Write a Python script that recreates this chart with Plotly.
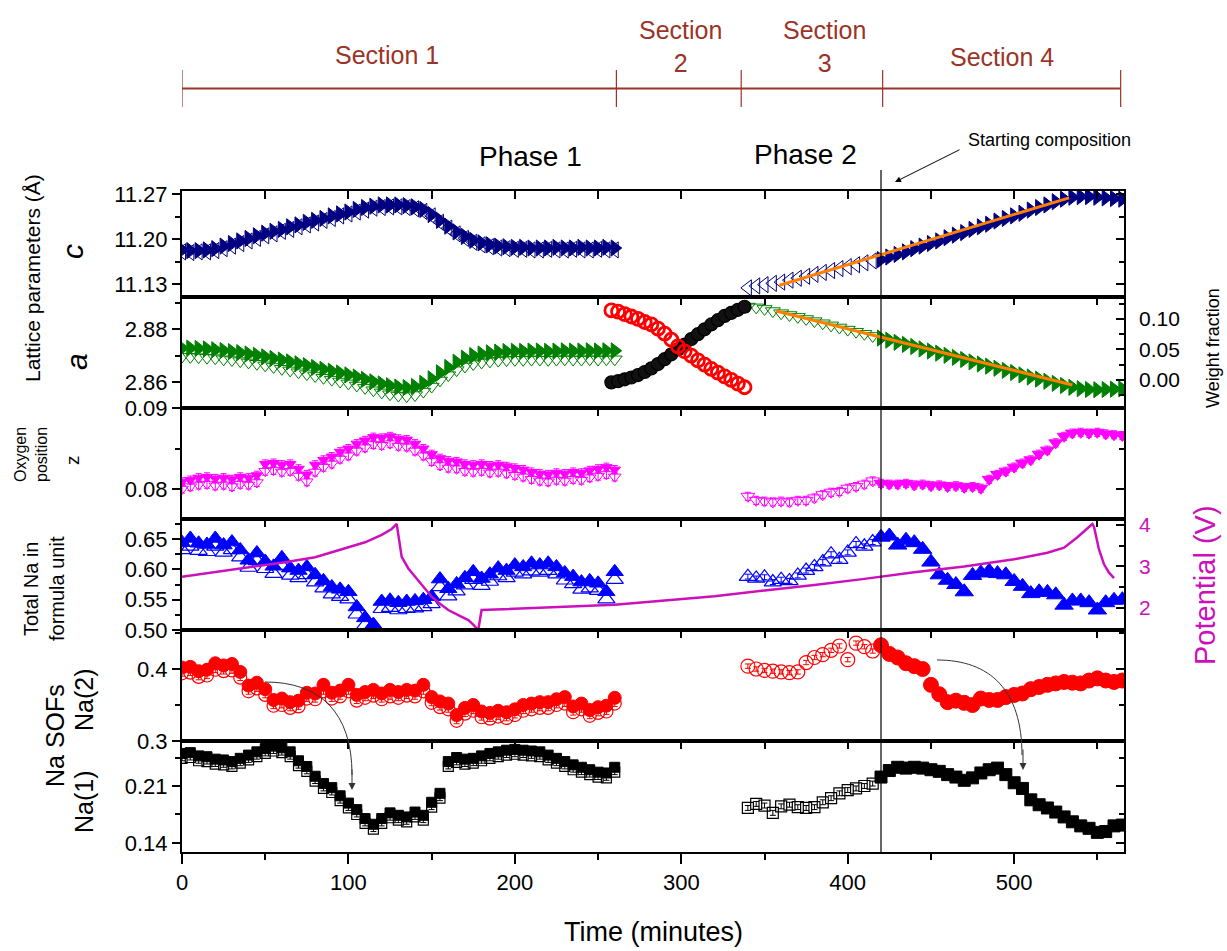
import plotly.graph_objects as go

# ---------------- data ----------------
T1 = [0, 5, 10, 15, 20, 25, 30, 35, 40, 45, 50, 55, 60, 65, 70, 75, 80, 85, 90, 95,
      100, 105, 110, 115, 120, 125, 130, 135, 140, 145, 150, 155, 160, 165, 170, 175,
      180, 185, 190, 195, 200, 205, 210, 215, 220, 225, 230, 235, 240, 245, 250, 255, 260]
T2 = [258, 262, 266, 270, 274, 278, 282, 286, 290, 294, 298, 302, 306, 310, 314, 318,
      322, 326, 330, 334, 338]
T3 = [340, 345, 350, 355, 360, 365, 370, 375, 380, 385, 390, 395, 400, 405, 410, 415]
T4 = [420, 425, 430, 435, 440, 445, 450, 455, 460, 465, 470, 475, 480, 485, 490, 495,
      500, 505, 510, 515, 520, 525, 530, 535, 540, 545, 550, 555, 560, 565]

# lattice parameter c
c_fill1 = [11.183, 11.182, 11.182, 11.183, 11.185, 11.189, 11.193, 11.197, 11.201, 11.205,
           11.209, 11.212, 11.215, 11.219, 11.222, 11.226, 11.229, 11.232, 11.236, 11.239,
           11.242, 11.246, 11.249, 11.251, 11.253, 11.253, 11.253, 11.252, 11.250, 11.246,
           11.238, 11.229, 11.220, 11.211, 11.204, 11.198, 11.194, 11.191, 11.189, 11.188,
           11.187, 11.187, 11.186, 11.186, 11.186, 11.187, 11.186, 11.186, 11.187, 11.186,
           11.186, 11.187, 11.186]
c_open1 = [11.180, 11.179, 11.180, 11.180, 11.182, 11.185, 11.189, 11.193, 11.197, 11.201,
           11.205, 11.208, 11.212, 11.215, 11.219, 11.222, 11.225, 11.229, 11.232, 11.236,
           11.239, 11.242, 11.245, 11.248, 11.249, 11.250, 11.250, 11.249, 11.247, 11.243,
           11.236, 11.226, 11.217, 11.208, 11.201, 11.195, 11.191, 11.188, 11.186, 11.185,
           11.184, 11.184, 11.183, 11.183, 11.184, 11.183, 11.183, 11.184, 11.183, 11.183,
           11.184, 11.183, 11.183]
c_open3 = [11.124, 11.127, 11.129, 11.131, 11.133, 11.136, 11.139, 11.142, 11.145, 11.148,
           11.151, 11.154, 11.157, 11.160, 11.163, 11.166]
c_fill4 = [11.168, 11.172, 11.176, 11.180, 11.185, 11.189, 11.193, 11.197, 11.202, 11.206,
           11.210, 11.215, 11.219, 11.223, 11.228, 11.232, 11.236, 11.240, 11.245, 11.249,
           11.253, 11.258, 11.262, 11.265, 11.266, 11.266, 11.265, 11.264, 11.263, 11.262]
c_fit_t = [359, 533]
c_fit = [11.128, 11.264]

# lattice parameter a
a_fill1 = [2.8728, 2.8728, 2.8727, 2.8725, 2.8722, 2.8719, 2.8715, 2.8711, 2.8706, 2.8701,
           2.8695, 2.8689, 2.8683, 2.8676, 2.8669, 2.8662, 2.8655, 2.8648, 2.8641, 2.8634,
           2.8627, 2.8619, 2.8610, 2.8601, 2.8593, 2.8586, 2.8581, 2.8579, 2.8583, 2.8595,
           2.8612, 2.8635, 2.8655, 2.8675, 2.8690, 2.8700, 2.8706, 2.8710, 2.8713, 2.8715,
           2.8716, 2.8716, 2.8717, 2.8717, 2.8716, 2.8717, 2.8718, 2.8717, 2.8717, 2.8718,
           2.8717, 2.8718, 2.8718]
a_open1 = [2.8696, 2.8695, 2.8694, 2.8692, 2.8690, 2.8686, 2.8683, 2.8679, 2.8674, 2.8669,
           2.8663, 2.8657, 2.8650, 2.8644, 2.8637, 2.8630, 2.8623, 2.8616, 2.8609, 2.8602,
           2.8595, 2.8587, 2.8578, 2.8569, 2.8561, 2.8554, 2.8549, 2.8547, 2.8551, 2.8564,
           2.8583, 2.8606, 2.8626, 2.8645, 2.8659, 2.8668, 2.8674, 2.8678, 2.8681, 2.8683,
           2.8684, 2.8684, 2.8685, 2.8685, 2.8684, 2.8685, 2.8686, 2.8685, 2.8685, 2.8686,
           2.8685, 2.8686, 2.8686]
a_open3 = [2.8885, 2.8882, 2.8876, 2.8868, 2.8860, 2.8853, 2.8846, 2.8838, 2.8830, 2.8822,
           2.8814, 2.8806, 2.8798, 2.8790, 2.8782, 2.8774]
a_fill4 = [2.8766, 2.8758, 2.8750, 2.8742, 2.8734, 2.8725, 2.8717, 2.8709, 2.8701, 2.8693,
           2.8685, 2.8676, 2.8668, 2.8660, 2.8652, 2.8644, 2.8636, 2.8627, 2.8619, 2.8611,
           2.8603, 2.8595, 2.8587, 2.8580, 2.8575, 2.8572, 2.8571, 2.8572, 2.8573, 2.8574]
a_fit_t = [357, 535]
a_fit = [2.8868, 2.8589]

# weight fractions (section 2)
wf_phase1 = [0.114, 0.112, 0.108, 0.104, 0.100, 0.095, 0.091, 0.084, 0.076, 0.066, 0.055,
             0.047, 0.040, 0.032, 0.025, 0.018, 0.012, 0.006, 0.000, -0.006, -0.012]
wf_phase2 = [-0.004, -0.002, 0.001, 0.004, 0.008, 0.013, 0.019, 0.026, 0.034, 0.042, 0.050,
             0.058, 0.067, 0.075, 0.083, 0.091, 0.098, 0.105, 0.110, 0.115, 0.120]

# oxygen position z
z_fill1 = [0.0809, 0.0811, 0.0814, 0.0815, 0.0813, 0.0814, 0.0812, 0.0815, 0.0814, 0.0817,
           0.0831, 0.0832, 0.0830, 0.0831, 0.0825, 0.0818, 0.0830, 0.0836, 0.0840, 0.0846,
           0.0850, 0.0856, 0.0860, 0.0864, 0.0863, 0.0865, 0.0862, 0.0861, 0.0856, 0.0850,
           0.0843, 0.0838, 0.0835, 0.0834, 0.0831, 0.0830, 0.0831, 0.0829, 0.0830, 0.0828,
           0.0826, 0.0824, 0.0821, 0.0819, 0.0818, 0.0820, 0.0819, 0.0821, 0.0820, 0.0823,
           0.0825, 0.0827, 0.0824]
z_open1 = [0.0800, 0.0803, 0.0805, 0.0806, 0.0804, 0.0805, 0.0803, 0.0806, 0.0805, 0.0808,
           0.0822, 0.0823, 0.0821, 0.0822, 0.0816, 0.0809, 0.0821, 0.0827, 0.0831, 0.0837,
           0.0841, 0.0847, 0.0851, 0.0855, 0.0854, 0.0856, 0.0853, 0.0852, 0.0847, 0.0841,
           0.0834, 0.0829, 0.0826, 0.0825, 0.0822, 0.0821, 0.0822, 0.0820, 0.0821, 0.0819,
           0.0817, 0.0815, 0.0812, 0.0810, 0.0809, 0.0811, 0.0810, 0.0812, 0.0811, 0.0814,
           0.0816, 0.0818, 0.0815]
z_open3 = [0.0791, 0.0786, 0.0785, 0.0784, 0.0785, 0.0784, 0.0786, 0.0786, 0.0789, 0.0793,
           0.0796, 0.0797, 0.0801, 0.0803, 0.0806, 0.0810]
z_fill4 = [0.0807, 0.0806, 0.0806, 0.0807, 0.0805, 0.0806, 0.0804, 0.0805, 0.0803, 0.0804,
           0.0802, 0.0803, 0.0801, 0.0812, 0.0818, 0.0822, 0.0827, 0.0832, 0.0836, 0.0843,
           0.0848, 0.0857, 0.0865, 0.0869, 0.0870, 0.0869, 0.0870, 0.0868, 0.0867, 0.0866]

# total Na in formula unit
na_fill1 = [0.644, 0.651, 0.643, 0.641, 0.651, 0.640, 0.645, 0.632, 0.615, 0.627,
            0.613, 0.605, 0.619, 0.602, 0.598, 0.604, 0.591, 0.581, 0.571, 0.567,
            0.563, 0.538, 0.520, 0.509, 0.547, 0.549, 0.545, 0.547, 0.548, 0.550,
            0.555, 0.584, 0.568, 0.576, 0.586, 0.596, 0.585, 0.592, 0.602, 0.598,
            0.607, 0.604, 0.610, 0.607, 0.610, 0.604, 0.594, 0.588, 0.579, 0.581,
            0.577, 0.563, 0.596]
na_open1 = [0.632, 0.638, 0.631, 0.629, 0.638, 0.628, 0.632, 0.620, 0.603, 0.614,
            0.601, 0.593, 0.606, 0.590, 0.586, 0.591, 0.579, 0.569, 0.559, 0.555,
            0.551, 0.526, 0.508, 0.497, 0.535, 0.537, 0.533, 0.535, 0.536, 0.538,
            0.543, 0.571, 0.556, 0.564, 0.574, 0.583, 0.573, 0.580, 0.589, 0.586,
            0.595, 0.592, 0.597, 0.595, 0.598, 0.592, 0.582, 0.576, 0.567, 0.569,
            0.565, 0.551, 0.583]
na_open3 = [0.588, 0.585, 0.587, 0.579, 0.583, 0.581, 0.590, 0.598, 0.604, 0.612,
            0.625, 0.616, 0.628, 0.642, 0.638, 0.645]
na_fill4 = [0.653, 0.655, 0.640, 0.648, 0.644, 0.633, 0.612, 0.591, 0.582, 0.575,
            0.563, 0.590, 0.594, 0.597, 0.593, 0.591, 0.580, 0.572, 0.560, 0.563,
            0.562, 0.558, 0.541, 0.548, 0.548, 0.545, 0.533, 0.545, 0.549, 0.550]

# potential (V)
pot_t = [0, 20, 40, 60, 80, 100, 110, 120, 126, 129, 130, 132, 136, 140, 145, 150, 155,
         160, 166, 172, 175, 177, 178, 180, 200, 230, 260, 290, 320, 350, 380, 410, 440,
         470, 500, 520, 530, 538, 544, 547, 548, 551, 554, 557, 560]
pot_v = [2.75, 2.86, 2.97, 3.09, 3.22, 3.45, 3.58, 3.76, 3.90, 4.02, 3.75, 3.23, 2.95,
         2.75, 2.50, 2.27, 2.10, 1.95, 1.83, 1.71, 1.60, 1.50, 1.47, 1.95, 1.98, 2.03,
         2.08, 2.18, 2.28, 2.42, 2.55, 2.70, 2.86, 3.00, 3.17, 3.33, 3.45, 3.70, 3.90,
         4.02, 3.95, 3.40, 3.05, 2.85, 2.72]

# Na(2) SOF
n2_fill1 = [0.402, 0.403, 0.397, 0.399, 0.408, 0.405, 0.407, 0.396, 0.377, 0.381,
            0.372, 0.357, 0.359, 0.354, 0.356, 0.367, 0.366, 0.378, 0.367, 0.370,
            0.378, 0.364, 0.368, 0.371, 0.366, 0.371, 0.368, 0.371, 0.370, 0.378,
            0.361, 0.355, 0.352, 0.336, 0.346, 0.350, 0.341, 0.339, 0.342, 0.340,
            0.344, 0.350, 0.352, 0.354, 0.354, 0.358, 0.361, 0.348, 0.352, 0.343,
            0.347, 0.349, 0.360]
n2_open1 = [0.394, 0.395, 0.389, 0.391, 0.399, 0.397, 0.398, 0.388, 0.369, 0.373,
            0.364, 0.349, 0.350, 0.346, 0.348, 0.359, 0.358, 0.369, 0.359, 0.362,
            0.369, 0.356, 0.360, 0.363, 0.358, 0.362, 0.360, 0.363, 0.362, 0.369,
            0.353, 0.347, 0.344, 0.328, 0.338, 0.342, 0.333, 0.331, 0.334, 0.332,
            0.336, 0.342, 0.344, 0.346, 0.346, 0.350, 0.352, 0.340, 0.344, 0.335,
            0.339, 0.341, 0.352]
n2_open3 = [0.404, 0.400, 0.398, 0.397, 0.396, 0.395, 0.396, 0.409, 0.416, 0.420,
            0.426, 0.432, 0.413, 0.436, 0.431, 0.425]
n2_fill4 = [0.433, 0.421, 0.416, 0.408, 0.404, 0.400, 0.378, 0.365, 0.354, 0.356,
            0.353, 0.350, 0.359, 0.357, 0.357, 0.361, 0.364, 0.366, 0.372, 0.375,
            0.378, 0.380, 0.382, 0.381, 0.380, 0.384, 0.387, 0.384, 0.382, 0.384]

# Na(1) SOF
n1_fill1 = [0.250, 0.251, 0.247, 0.246, 0.243, 0.242, 0.240, 0.244, 0.248, 0.252,
            0.256, 0.259, 0.257, 0.252, 0.241, 0.234, 0.222, 0.213, 0.208, 0.198,
            0.189, 0.181, 0.170, 0.163, 0.170, 0.177, 0.174, 0.172, 0.178, 0.174,
            0.190, 0.201, 0.240, 0.245, 0.243, 0.244, 0.247, 0.250, 0.252, 0.254,
            0.255, 0.254, 0.253, 0.252, 0.248, 0.244, 0.240, 0.236, 0.233, 0.230,
            0.227, 0.226, 0.233]
n1_open1 = [0.244, 0.245, 0.241, 0.240, 0.237, 0.236, 0.234, 0.238, 0.242, 0.246,
            0.250, 0.253, 0.251, 0.246, 0.235, 0.228, 0.216, 0.207, 0.202, 0.192,
            0.183, 0.175, 0.164, 0.157, 0.164, 0.171, 0.168, 0.166, 0.172, 0.168,
            0.184, 0.195, 0.234, 0.239, 0.237, 0.238, 0.241, 0.244, 0.246, 0.248,
            0.249, 0.248, 0.247, 0.246, 0.242, 0.238, 0.234, 0.230, 0.227, 0.224,
            0.221, 0.220, 0.227]
n1_open3 = [0.183, 0.188, 0.186, 0.177, 0.185, 0.187, 0.184, 0.183, 0.184, 0.190,
            0.195, 0.201, 0.205, 0.207, 0.210, 0.213]
n1_fill4 = [0.221, 0.229, 0.233, 0.232, 0.233, 0.232, 0.230, 0.228, 0.224, 0.221,
            0.217, 0.220, 0.226, 0.230, 0.232, 0.224, 0.214, 0.207, 0.193, 0.187,
            0.183, 0.178, 0.172, 0.166, 0.161, 0.158, 0.153, 0.154, 0.161, 0.162]

x_ticks = [0, 100, 200, 300, 400, 500]
section_bounds = [0, 261, 336, 421, 564]
start_comp_t = 420

# ---------------- styling ----------------
FONT = "Liberation Sans, Arial, sans-serif"
NAVY = "#000080"
GREEN = "#008000"
MAG = "#FF00FF"
BLUE = "#0000FF"
RED = "#FF0000"
POT = "#CC11BB"
ORANGE = "#FF8000"
SEC = "#9B3426"
XR = [0, 566]

fig = go.Figure()


def pts(x, y, xa, ya, symbol, color, size, lw=1.2, err=None, fillcolor=None, errw=3):
    tr = go.Scatter(
        x=x, y=y, mode="markers", xaxis=xa, yaxis=ya, showlegend=False, hoverinfo="skip",
        cliponaxis=True,
        marker=dict(symbol=symbol, size=size, color=fillcolor or color,
                    line=dict(color=color, width=lw)),
    )
    if err is not None:
        tr.error_y = dict(type="constant", value=err, color=color, thickness=1, width=errw)
    fig.add_trace(tr)


def line(x, y, xa, ya, color, width):
    fig.add_trace(go.Scatter(x=x, y=y, mode="lines", xaxis=xa, yaxis=ya, showlegend=False,
                             hoverinfo="skip", line=dict(color=color, width=width)))


# panel 1: c
pts(T1, c_open1, "x", "y", "triangle-left-open", NAVY, 14, 1)
pts(T1, c_fill1, "x", "y", "triangle-right", NAVY, 14, 1)
pts(T3, c_open3, "x", "y", "triangle-left-open", NAVY, 14, 1)
pts(T4, c_fill4, "x", "y", "triangle-right", NAVY, 14, 1)
line(c_fit_t, c_fit, "x", "y", ORANGE, 3)

# panel 2: a + weight fractions
pts(T1, a_open1, "x2", "y2", "triangle-down-open", GREEN, 13, 1)
pts(T1, a_fill1, "x2", "y2", "triangle-right", GREEN, 14, 1)
pts(T3, a_open3, "x2", "y2", "triangle-down-open", GREEN, 13, 1)
pts(T4, a_fill4, "x2", "y2", "triangle-right", GREEN, 14, 1)
line(a_fit_t, a_fit, "x2", "y2", ORANGE, 3)
pts(T2, wf_phase2, "x2", "y7", "circle", "#000000", 13, 1.2, fillcolor="#111111")
pts(T2, wf_phase1, "x2", "y7", "circle-open", RED, 13, 2.8)

# panel 3: z
pts(T1, z_open1, "x3", "y3", "triangle-down-open", MAG, 11, 1, err=0.0005)
pts(T1, z_fill1, "x3", "y3", "triangle-down", MAG, 10, 1, err=0.0005)
pts(T3, z_open3, "x3", "y3", "triangle-down-open", MAG, 12, 1, err=0.0005)
pts(T4, z_fill4, "x3", "y3", "triangle-down", MAG, 12, 1, err=0.0005)

# panel 4: total Na + potential
pts(T1, na_open1, "x4", "y4", "triangle-up-open", BLUE, 15, 1.2)
pts(T1, na_fill1, "x4", "y4", "triangle-up", BLUE, 15, 1)
pts(T3, na_open3, "x4", "y4", "triangle-up-open", BLUE, 15, 1.2, err=0.004)
pts(T4, na_fill4, "x4", "y4", "triangle-up", BLUE, 16, 1)
line(pot_t, pot_v, "x4", "y8", POT, 2.5)

# panel 5: Na(2)
pts(T1, n2_open1, "x5", "y5", "circle-open", RED, 13, 1.2, err=0.004)
pts(T1, n2_fill1, "x5", "y5", "circle", RED, 13, 1, err=0.004)
pts(T3, n2_open3, "x5", "y5", "circle-open", RED, 14, 1.2, err=0.003)
pts(T4, n2_fill4, "x5", "y5", "circle", RED, 15, 1, err=0.004)

# panel 6: Na(1)
pts(T1, n1_open1, "x6", "y6", "square-open", "#000000", 10, 1.2, err=0.003)
pts(T1, n1_fill1, "x6", "y6", "square", "#000000", 10, 1, err=0.003)
pts(T3, n1_open3, "x6", "y6", "square-open", "#000000", 11, 1.2, err=0.003)
pts(T4, n1_fill4, "x6", "y6", "square", "#000000", 12, 1, err=0.003)

# dummy traces so that the tick-only axes are drawn
for xa, ya in [("x7", "y6"), ("x", "y9"), ("x3", "y10"), ("x5", "y11"), ("x6", "y12")]:
    fig.add_trace(go.Scatter(x=[None], y=[None], xaxis=xa, yaxis=ya, mode="markers",
                             showlegend=False, hoverinfo="skip"))

# ---------------- axes ----------------
bounds_px = [191, 297, 408, 519, 630, 741, 852]
H = 661.0
dom = {}
for i in range(6):
    top = (852 - bounds_px[i]) / H
    bot = (852 - bounds_px[i + 1]) / H
    dom[i + 1] = [max(0.0, bot), min(1.0, top)]

yspec = {
    1: dict(range=[11.1098, 11.2747], tick0=11.13, dtick=0.07, tickformat=".2f", minor=0.035),
    2: dict(range=[2.8502, 2.8921], tick0=2.86, dtick=0.02, tickformat=".2f", minor=0.01),
    3: dict(range=[0.0763, 0.0900], tick0=0.08, dtick=0.01, tickformat=".2f", minor=0.005),
    4: dict(range=[0.500, 0.683], tick0=0.50, dtick=0.05, tickformat=".2f", minor=0.025),
    5: dict(range=[0.300, 0.4542], tick0=0.30, dtick=0.1, tickformat=".1f", minor=0.05),
    6: dict(range=[0.1289, 0.2653], tick0=0.14, dtick=0.07, tickformat=".2f", minor=0.035),
}

tickfont = dict(family=FONT, size=22, color="black")
layout_axes = {}
for i in range(1, 7):
    xname = "xaxis" if i == 1 else f"xaxis{i}"
    yname = "yaxis" if i == 1 else f"yaxis{i}"
    yid = "y" if i == 1 else f"y{i}"
    xid = "x" if i == 1 else f"x{i}"
    if i < 6:
        layout_axes[xname] = dict(
            domain=[0, 1], anchor=yid, range=XR, side="top", ticks="inside", ticklen=8,
            tickwidth=1.5, tickcolor="black", tickmode="linear", tick0=0, dtick=50,
            showticklabels=False, showline=True, linewidth=2, linecolor="black",
            mirror=True, showgrid=False, zeroline=False, fixedrange=True)
    else:
        layout_axes[xname] = dict(
            domain=[0, 1], anchor=yid, range=XR, side="bottom", ticks="outside", ticklen=10,
            tickwidth=1.5, tickcolor="black", tickvals=x_ticks,
            minor=dict(ticks="outside", ticklen=6, tickwidth=1.5, tickcolor="black",
                       tickvals=[50, 150, 250, 350, 450, 550]),
            showticklabels=True, tickfont=dict(family=FONT, size=22, color="black"),
            showline=True, linewidth=2, linecolor="black", mirror=True,
            showgrid=False, zeroline=False)
    s = yspec[i]
    layout_axes[yname] = dict(
        domain=dom[i], anchor=xid, range=s["range"], tickmode="linear", tick0=s["tick0"],
        dtick=s["dtick"], tickformat=s["tickformat"], ticks="outside", ticklen=8,
        tickwidth=1.5, tickcolor="black", tickfont=tickfont,
        minor=dict(ticks="outside", ticklen=5, tickwidth=1.5, tickcolor="black",
                   dtick=s["minor"], tick0=s["tick0"]),
        showline=True, linewidth=2, linecolor="black", mirror=True, showgrid=False,
        zeroline=False)

# top-side inside ticks for the bottom panel
layout_axes["xaxis7"] = dict(overlaying="x6", anchor="y6", side="top", range=XR,
                             ticks="inside", ticklen=8, tickwidth=1.5, tickcolor="black",
                             tickmode="linear", tick0=0, dtick=50, showticklabels=False,
                             showline=False, showgrid=False, zeroline=False)
# weight fraction axis
layout_axes["yaxis7"] = dict(overlaying="y2", anchor="x2", side="right", range=[-0.046, 0.136],
                             tickmode="linear", tick0=0, dtick=0.05, tickformat=".2f",
                             ticks="inside", ticklen=8, tickwidth=1.5, tickcolor="black",
                             ticklabelstandoff=14,
                             minor=dict(ticks="inside", ticklen=5, dtick=0.025, tick0=0,
                                        tickcolor="black"),
                             tickfont=dict(family=FONT, size=21, color="black"),
                             showline=False, showgrid=False, zeroline=False)
# potential axis
layout_axes["yaxis8"] = dict(overlaying="y4", anchor="x4", side="right", range=[1.47, 4.14],
                             tickmode="linear", tick0=2, dtick=1, ticks="inside", ticklen=8,
                             tickwidth=1.5, tickcolor="black", ticklabelstandoff=14,
                             minor=dict(ticks="inside", ticklen=5, dtick=0.5, tick0=2,
                                        tickcolor="black"),
                             tickfont=dict(family=FONT, size=21, color=POT),
                             showline=False, showgrid=False, zeroline=False)
# right-side tick-only axes for panels 1,3,5,6
for name, base, xid in [("yaxis9", 1, "x"), ("yaxis10", 3, "x3"), ("yaxis11", 5, "x5"),
                        ("yaxis12", 6, "x6")]:
    s = yspec[base]
    layout_axes[name] = dict(
        overlaying="y" if base == 1 else f"y{base}", anchor=xid, side="right",
        range=s["range"], tickmode="linear", tick0=s["tick0"], dtick=s["dtick"],
        ticks="inside", ticklen=8, tickwidth=1.5, tickcolor="black", showticklabels=False,
        minor=dict(ticks="inside", ticklen=5, tickwidth=1.5, tickcolor="black",
                   dtick=s["minor"], tick0=s["tick0"]),
        showline=False, showgrid=False, zeroline=False)


def px(X):
    return (X - 182) / 942.0


def py(Y):
    return (852 - Y) / 661.0


def ann(text, X, Y, size, color="black", angle=0, italic=False, xanchor="center"):
    t = f"<i>{text}</i>" if italic else text
    return dict(text=t, x=px(X), y=py(Y), xref="paper", yref="paper", showarrow=False,
                textangle=angle, xanchor=xanchor, yanchor="middle",
                font=dict(family=FONT, size=size, color=color))


annotations = [
    ann("Lattice parameters (Å)", 32, 278, 21, angle=-90),
    ann("c", 72, 252, 30, angle=-90, italic=True),
    ann("a", 76, 362, 30, angle=-90, italic=True),
    ann("Oxygen<br>position", 31, 455, 16, angle=-90),
    ann("z", 72, 460, 19, angle=-90),
    ann("Total Na in<br>formula unit", 44, 589, 20, angle=-90),
    ann("Na SOFs", 55, 736, 25, angle=-90),
    ann("Na(2)", 84, 700, 25, angle=-90),
    ann("Na(1)", 84, 802, 25, angle=-90),
    ann("Weight fraction", 1213, 348, 18, angle=-90),
    ann("Potential (V)", 1205, 585, 29, color=POT, angle=-90),
    ann("Time (minutes)", 653, 932, 27),
    ann("Section 1", 387, 55, 25, color=SEC),
    ann("Section<br>2", 680, 46, 25, color=SEC),
    ann("Section<br>3", 824, 46, 25, color=SEC),
    ann("Section 4", 1002, 57, 25, color=SEC),
    ann("Phase 1", 530, 157, 28),
    ann("Phase 2", 805, 155, 28),
    ann("Starting composition", 966, 140, 18, xanchor="left"),
    # arrow for starting composition
    dict(x=px(895), y=py(182), xref="paper", yref="paper", ax=66, ay=-33, text="",
         showarrow=True, arrowhead=2, arrowsize=1.2, arrowwidth=1, arrowcolor="black"),
    # arrowheads of curved arrows
    dict(x=px(352), y=py(790), xref="paper", yref="paper", ax=0, ay=-22, text="",
         showarrow=True, arrowhead=2, arrowsize=1.4, arrowwidth=1, arrowcolor="#333333"),
    dict(x=px(1023), y=py(770), xref="paper", yref="paper", ax=0, ay=-22, text="",
         showarrow=True, arrowhead=2, arrowsize=1.4, arrowwidth=1, arrowcolor="#333333"),
]

shapes = []
# vertical line: starting composition
shapes.append(dict(type="line", xref="x6", yref="paper", x0=start_comp_t, x1=start_comp_t,
                   y0=0, y1=py(170), line=dict(color="black", width=1.2)))
# section bracket
shapes.append(dict(type="line", xref="x", yref="paper", x0=section_bounds[0],
                   x1=section_bounds[-1], y0=py(88.6), y1=py(88.6),
                   line=dict(color=SEC, width=2)))
for b in section_bounds:
    shapes.append(dict(type="line", xref="x", yref="paper", x0=b, x1=b, y0=py(107),
                       y1=py(70), line=dict(color=SEC, width=1.2)))


def curve(p0, p1, p2, p3):
    pts_ = [p0, p1, p2, p3]
    c = [f"{px(X):.4f},{py(Y):.4f}" for X, Y in pts_]
    return f"M {c[0]} C {c[1]} {c[2]} {c[3]}"


shapes.append(dict(type="path", xref="paper", yref="paper",
                   path=curve((265, 682), (320, 682), (352, 712), (352, 775)),
                   line=dict(color="#333333", width=1)))
shapes.append(dict(type="path", xref="paper", yref="paper",
                   path=curve((937, 660), (990, 660), (1022, 690), (1022, 755)),
                   line=dict(color="#333333", width=1)))

fig.update_layout(
    width=1227, height=951,
    margin=dict(l=182, r=103, t=191, b=99, pad=0),
    paper_bgcolor="white", plot_bgcolor="white",
    font=dict(family=FONT, size=18, color="black"),
    showlegend=False,
    annotations=annotations,
    shapes=shapes,
    **layout_axes,
)

fig.write_html("out.html")
